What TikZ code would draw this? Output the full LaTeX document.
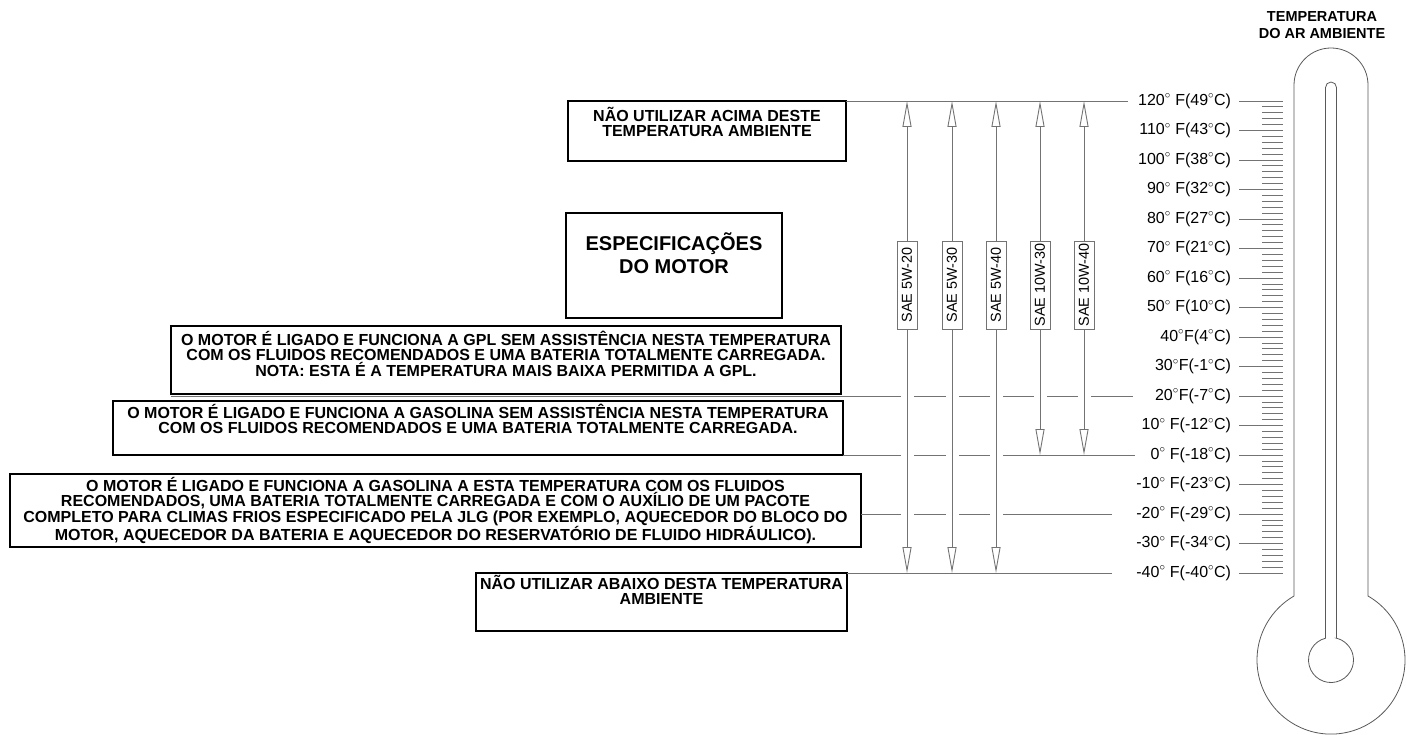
\documentclass[tikz,border=0pt]{standalone}
\usepackage{fontspec}
\setmainfont{Liberation Sans}
\usetikzlibrary{arrows.meta,positioning}
\colorlet{rulegray}{black!55}
\newcommand{\dg}{$^{\circ}$}
\newcommand{\ty}[1]{101+(120-(#1))*2.95}
\begin{document}
\begin{tikzpicture}[x=1pt,y=-1pt,
  every node/.style={inner sep=0pt,outer sep=0pt},
  panel/.style={draw,line width=1.6pt},
  paneltext/.style={align=center,font=\fontsize{16}{15.5}\selectfont\bfseries},
  degreelabel/.style={anchor=east,font=\fontsize{16}{18}\selectfont},
  grade/.style={draw=rulegray,fill=white,rotate=90,minimum width=88pt,
    minimum height=20pt,font=\fontsize{14.4}{16}\selectfont},
  templine/.style={rulegray,line width=0.9pt},
  oilrange/.style={rulegray,line width=0.9pt,
    {Triangle[length=26pt,width=9pt,fill=white]}-{Triangle[length=26pt,width=9pt,fill=white]}},
  tick/.style={rulegray,line width=0.8pt},
  glass/.style={draw=black!65,line width=0.8pt}]
  \useasboundingbox (0,0) rectangle (1407,735);
  % Temperature scale
  \foreach \t in {-40,-38,...,120}
    \draw[tick] (1262,{\ty{\t}}) -- (1283,{\ty{\t}});
  \foreach \t/\txt in {120/{120\dg{} F(49\dg C)}, 110/{110\dg{} F(43\dg C)},
      100/{100\dg{} F(38\dg C)}, 90/{90\dg{} F(32\dg C)}, 80/{80\dg{} F(27\dg C)},
      70/{70\dg{} F(21\dg C)}, 60/{60\dg{} F(16\dg C)}, 50/{50\dg{} F(10\dg C)},
      40/{40\dg F(4\dg C)}, 30/{30\dg F(-1\dg C)}, 20/{20\dg F(-7\dg C)},
      10/{10\dg{} F(-12\dg C)}, 0/{0\dg{} F(-18\dg C)}, -10/{-10\dg{} F(-23\dg C)},
      -20/{-20\dg{} F(-29\dg C)}, -30/{-30\dg{} F(-34\dg C)}, -40/{-40\dg{} F(-40\dg C)}} {
    \node[degreelabel] (lbl\t) at (1231,{\ty{\t}}) {\txt};
    \draw[tick] ([xshift=8pt]lbl\t.east) -- (1283,{\ty{\t}});
  }
  % Thermometer
  \node[align=center,font=\fontsize{14.5}{17}\selectfont\bfseries] (thermtitle)
    at (1322,25) {TEMPERATURA\\DO AR AMBIENTE};
  \draw[glass] (1294,596) -- (1294,85) arc[start angle=180,end angle=360,radius=37]
    -- (1368,596) arc[start angle=-60,end angle=240,radius=74] -- cycle;
  \draw[glass] (1336.5,638.2) -- (1336.5,87.5) arc[start angle=0,end angle=-180,radius=5.5]
    -- (1325.5,638.2) arc[start angle=255.85,end angle=-75.85,radius=22.5] -- cycle;
  % Boxes
  \node[panel,minimum width=278pt,minimum height=60pt] (topbox) at (707,131) {};
  \node[panel,minimum width=216pt,minimum height=105pt] (especbox) at (674,265.5) {};
  \node[panel,minimum width=670pt,minimum height=68pt] (gplbox) at (506,360) {};
  \node[panel,minimum width=730pt,minimum height=54pt] (gasbox) at (478,428) {};
  \node[panel,minimum width=851pt,minimum height=73pt] (jlgbox) at (435.5,510.5) {};
  \node[panel,minimum width=371pt,minimum height=58pt] (lowbox) at (661.5,602) {};
  % Limit lines
  \draw[templine] (topbox.east |- lbl120) -- ([xshift=-10pt]lbl120.west);
  \draw[templine] (gplbox.west |- lbl20) -- ([xshift=-22pt]lbl20.west);
  \draw[templine] (gasbox.east |- lbl0) -- ([xshift=-16pt]lbl0.west);
  \draw[templine] (jlgbox.east |- lbl-20) -- ([xshift=-24pt]lbl-20.west);
  \draw[templine] (lowbox.east |- lbl-40) -- ([xshift=-24pt]lbl-40.west);
  \foreach \x in {907,952,996,1040,1084}
    \fill[white] (\x-6.5,{\ty{20}-2}) rectangle (\x+6.5,{\ty{20}+2});
  \foreach \x in {907,952,996} {
    \fill[white] (\x-6.5,{\ty{0}-2}) rectangle (\x+6.5,{\ty{0}+2});
    \fill[white] (\x-6.5,{\ty{-20}-2}) rectangle (\x+6.5,{\ty{-20}+2});
  }
  % Oil grades
  \foreach \x/\grade/\low in {907/5W-20/-40, 952/5W-30/-40, 996/5W-40/-40,
      1040/10W-30/0, 1084/10W-40/0} {
    \coordinate (hi\grade) at (\x,{\ty{120}});
    \coordinate (lo\grade) at (\x,{\ty{\low}});
    \draw[oilrange] (hi\grade) -- (lo\grade);
    \node[grade] (sae\grade) at (\x,285) {SAE \grade};
  }
  % Box texts
  \node[paneltext,below=6pt of topbox.north] (toptext)
    {NÃO UTILIZAR ACIMA DESTE\\TEMPERATURA AMBIENTE};
  \node[paneltext,font=\fontsize{20}{23}\selectfont\bfseries,below=20pt of especbox.north]
    (espectext) {ESPECIFICAÇÕES\\DO MOTOR};
  \node[paneltext,below=5pt of gplbox.north] (gpltext)
    {O MOTOR É LIGADO E FUNCIONA A GPL SEM ASSISTÊNCIA NESTA TEMPERATURA\\
     COM OS FLUIDOS RECOMENDADOS E UMA BATERIA TOTALMENTE CARREGADA.\\
     NOTA: ESTA É A TEMPERATURA MAIS BAIXA PERMITIDA A GPL.};
  \node[paneltext,below=3pt of gasbox.north] (gastext)
    {O MOTOR É LIGADO E FUNCIONA A GASOLINA SEM ASSISTÊNCIA NESTA TEMPERATURA\\
     COM OS FLUIDOS RECOMENDADOS E UMA BATERIA TOTALMENTE CARREGADA.};
  \node[paneltext] (jlgtext) at (jlgbox)
    {O MOTOR É LIGADO E FUNCIONA A GASOLINA A ESTA TEMPERATURA COM OS FLUIDOS\\
     RECOMENDADOS, UMA BATERIA TOTALMENTE CARREGADA E COM O AUXÍLIO DE UM PACOTE\\
     COMPLETO PARA CLIMAS FRIOS ESPECIFICADO PELA JLG (POR EXEMPLO, AQUECEDOR DO BLOCO DO\\
     MOTOR, AQUECEDOR DA BATERIA E AQUECEDOR DO RESERVATÓRIO DE FLUIDO HIDRÁULICO).};
  \node[paneltext,below=2pt of lowbox.north] (lowtext)
    {NÃO UTILIZAR ABAIXO DESTA TEMPERATURA\\AMBIENTE};
\end{tikzpicture}
\end{document}
